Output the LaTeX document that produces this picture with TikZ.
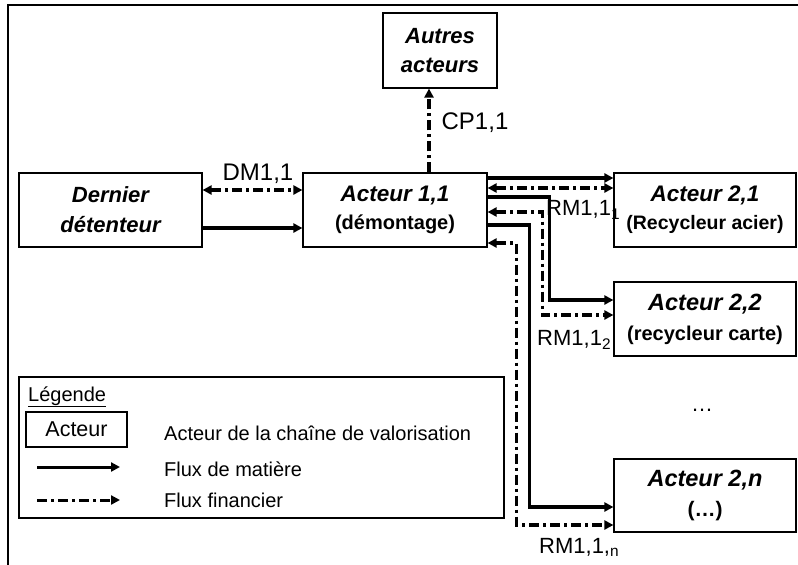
\documentclass[tikz,border=0pt]{standalone}
\usepackage{fontspec}
\setmainfont{Liberation Sans}
\usetikzlibrary{arrows.meta,calc}
\begin{document}
\begin{tikzpicture}[x=1pt,y=-1pt,
  box/.style={draw=black, line width=1.2pt, inner sep=0pt, align=center,
    font=\fontsize{22}{28}\selectfont\bfseries\itshape},
  tip/.tip={Triangle[length=9pt,width=9pt]},
  mat/.style={line width=3.4pt, -tip},
  fin/.style={line width=3.4pt, dash pattern=on 10pt off 4pt on 3pt off 4pt},
  finb/.style={fin, tip-tip},
  finr/.style={fin, -tip},
  lbl/.style={inner sep=0pt, font=\fontsize{24}{24}\selectfont},
  lbls/.style={inner sep=0pt, font=\fontsize{22}{22}\selectfont},
  legt/.style={inner sep=0pt, anchor=base west, font=\fontsize{20}{20}\selectfont}
]
\useasboundingbox (0,0) rectangle (798,565);
% outer frame (top and left edges)
\coordinate (ftl) at (8,5);
\coordinate (fbl) at (8,565);
\coordinate (ftr) at (798,5);
\draw[line width=1.3pt] (fbl) -- (ftl) -- (ftr);

% boxes
\node[box, minimum width=114pt, minimum height=75pt,
  font=\fontsize{22}{29}\selectfont\bfseries\itshape] (autres) at (440,50.5) {Autres\\acteurs};
\node[box, minimum width=183pt, minimum height=74pt,
  font=\fontsize{22}{30}\selectfont\bfseries\itshape] (dern) at (110.5,210) {Dernier\\détenteur};
\node[box, minimum width=184pt, minimum height=74pt,
  font=\fontsize{22.5}{28}\selectfont\bfseries\itshape] (a11) at (395,210)
  {Acteur 1,1\\{\fontsize{20}{28}\selectfont\upshape (démontage)}};
\node[box, minimum width=182pt, minimum height=74pt,
  font=\fontsize{22.5}{28}\selectfont\bfseries\itshape] (a21) at (705,210)
  {Acteur 2,1\\{\fontsize{19.5}{28}\selectfont\upshape (Recycleur acier)}};
\node[box, minimum width=182pt, minimum height=74pt,
  font=\fontsize{23.5}{30}\selectfont\bfseries\itshape] (a22) at (705,319)
  {Acteur 2,2\\{\fontsize{20}{30}\selectfont\upshape (recycleur carte)}};
\node[box, minimum width=182pt, minimum height=73pt,
  font=\fontsize{23.5}{30}\selectfont\bfseries\itshape] (a2n) at (705,495.5)
  {Acteur 2,n\\{\fontsize{21}{30}\selectfont\upshape (…)}};

% connectors
\draw[finb] ([yshift=20pt]dern.east) -- ([yshift=20pt]a11.west);
\draw[mat] ([yshift=-18pt]dern.east) -- ([yshift=-18pt]a11.west);
\draw[finr] ([xshift=34pt]a11.north) -- ([xshift=34pt]a11.north |- autres.south);

\draw[mat] ([yshift=32pt]a11.east) -- ([yshift=32pt]a21.west);
\draw[finb] ([yshift=22pt]a11.east) -- ([yshift=22pt]a21.west);

\draw[mat] ([yshift=13pt]a11.east) -| ([xshift=-64pt,yshift=19pt]a22.west) -- ([yshift=19pt]a22.west);
\draw[finb] ([yshift=-2pt]a11.east) -| ([xshift=-71pt,yshift=4pt]a22.west) -- ([yshift=4pt]a22.west);

\draw[mat] ([yshift=-15pt]a11.east) -| ([xshift=-84pt,yshift=-11.5pt]a2n.west) -- ([yshift=-11.5pt]a2n.west);
\draw[finb] ([yshift=-33pt]a11.east) -| ([xshift=-97pt,yshift=-29.5pt]a2n.west) -- ([yshift=-29.5pt]a2n.west);

% labels
\node[lbl] (dm) at (258,174) {DM1,1};
\node[lbl] (cp) at (475,123) {CP1,1};
\node[lbls, anchor=west] (rm1) at (546,210) {RM1,1\textsubscript{1}};
\node[lbls, anchor=west] (rm2) at (537,340) {RM1,1\textsubscript{2}};
\node[lbls, anchor=west] (rmn) at (539,547) {RM1,1,\textsubscript{n}};
\node[lbls] (dots) at (702,410) {…};

% legend
\node[draw=black, line width=1.2pt, minimum width=485pt, minimum height=141pt, inner sep=0pt] (leg) at (261.5,447.5) {};
\node[legt] (legtitle) at (28,401) {\underline{Légende}};
\node[draw=black, line width=1.2pt, minimum width=101pt, minimum height=35pt, inner sep=0pt,
  font=\fontsize{21.5}{21.5}\selectfont] (legbox) at (76.5,429.5) {Acteur};
\node[legt] (leg1) at (164,440) {Acteur de la chaîne de valorisation};
\node[legt] (leg2) at (164,476) {Flux de matière};
\node[legt] (leg3) at (164,507) {Flux financier};
\coordinate (m1) at (37,467);
\coordinate (m2) at (120,467);
\coordinate (f1) at (37,500);
\coordinate (f2) at (120,500);
\draw[mat, line width=3pt] (m1) -- (m2);
\draw[finr, line width=3pt] (f1) -- (f2);
\end{tikzpicture}
\end{document}
